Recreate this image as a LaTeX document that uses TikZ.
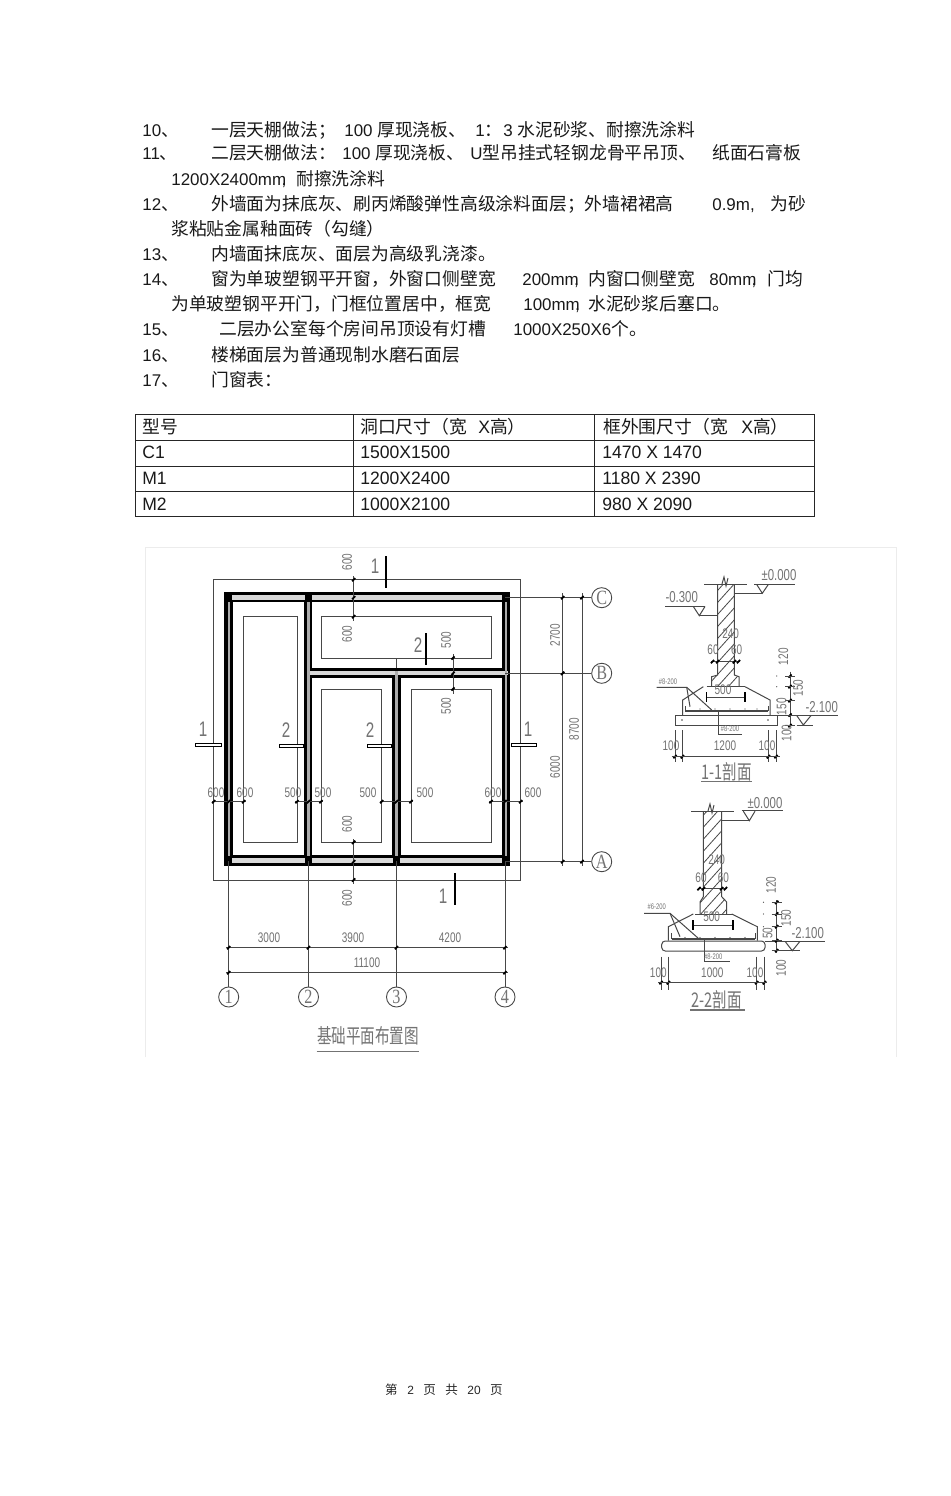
\documentclass[tikz,border=0pt]{standalone}
\usepackage{fontspec}
\setmainfont{Liberation Sans}
\newfontfamily\cj[Scale=1.05]{Noto Sans CJK SC}
\newfontfamily\cadf[FakeStretch=0.72]{Liberation Sans}
\newfontfamily\cadc[FakeStretch=0.72]{Noto Sans CJK SC}
\newfontfamily\tabf[FakeStretch=0.98]{Liberation Sans}
\newfontfamily\serf[FakeStretch=0.8]{Liberation Serif}
\newcommand{\tcj}{\fontsize{9.64}{11}\cj}
\usetikzlibrary{calc}
\newcounter{tnum}
\definecolor{cadtext}{gray}{0.45}
\definecolor{cadline}{gray}{0.28}
\definecolor{bodyc}{gray}{0.1}
\tikzset{
  px/.style={line width=#1*0.567pt},
  bodytext/.style={anchor=base west,inner sep=0pt,text=bodyc,font=\fontsize{9.64}{11}\selectfont},
  tabletext/.style={bodytext,font=\fontsize{10.2}{11}\tabf},
  cadtxt/.style={inner sep=0pt,text=cadtext,font=\fontsize{7.9}{9}\cadf},
  cadbig/.style={inner sep=0pt,text=cadtext,font=\fontsize{12}{13}\cadf},
  lvl/.style={inner sep=0pt,text=cadtext,font=\fontsize{9}{10}\cadf},
  smalltag/.style={inner sep=0pt,text=cadtext,font=\fontsize{4.6}{5}\cadf},
  titletxt/.style={inner sep=0pt,text=cadtext,font=\fontsize{11.5}{13}\cadc},
  cadl/.style={draw=cadline,px=1},
  cadthin/.style={draw=cadline,px=0.8},
  bubble/.style={circle,draw=cadline,px=0.9,minimum size=11.4pt,inner sep=0pt,text=cadtext,font=\fontsize{11.5}{12}\serf},
  secbar/.style={draw=black,px=2.2},
  sechollow/.style={draw=black,px=1,fill=white},
  tabline/.style={draw=black!85,px=1},
}
\newcommand{\tline}[3]{\stepcounter{tnum}\node[bodytext,name=t\arabic{tnum}] at (#1,#2+7) {#3};}
\newcommand{\tabt}[3]{\stepcounter{tnum}\node[tabletext,name=t\arabic{tnum}] at (#1,#2+6) {#3};}
\newcommand{\dimt}[3]{\stepcounter{tnum}\node[cadtxt,name=t\arabic{tnum}] at (#1,#2) {#3};}
\newcommand{\dimr}[3]{\stepcounter{tnum}\node[cadtxt,rotate=90,name=t\arabic{tnum}] at (#1,#2) {#3};}
\newcommand{\tickm}[2]{\draw[black,px=1.8] (#1-1.6,#2+1.6) -- (#1+1.6,#2-1.6);}
\newcommand{\secbarh}[3]{\draw[sechollow] (#1,#3-1.2) rectangle (#2,#3+1.2);}
\begin{document}
\begin{tikzpicture}[x=0.02cm,y=-0.02cm]
\useasboundingbox (0,0) rectangle (950,1496);
\fill[white] (0,0) rectangle (950,1496);

% ---- body text
\tline{142}{130}{10\cj 、}
\tline{211}{130}{\cj 一层天棚做法；}
\tline{344}{130}{100 \cj 厚现浇板、}
\tline{475}{130}{1\cj ：}
\tline{503}{130}{3 \cj 水泥砂浆、耐擦洗涂料}
\tline{142}{153}{11\cj 、}
\tline{211}{153}{\cj 二层天棚做法：}
\tline{342}{153}{100 \cj 厚现浇板、}
\tline{470}{153}{U\cj 型吊挂式轻钢龙骨平吊顶、}
\tline{712}{153}{\cj 纸面石膏板}
\tline{171}{179}{1200X2400mm\llap{,}}
\tline{296}{179}{\cj 耐擦洗涂料}
\tline{142}{204}{12\cj 、}
\tline{211}{204}{\cj 外墙面为抹底灰、刷丙烯酸弹性高级涂料面层；外墙裙裙高}
\tline{712}{204}{0.9m,}
\tline{770}{204}{\cj 为砂}
\tline{171}{229}{\cj 浆粘贴金属釉面砖（勾缝）}
\tline{142}{254}{13\cj 、}
\tline{211}{254}{\cj 内墙面抹底灰、面层为高级乳浇漆。}
\tline{142}{279}{14\cj 、}
\tline{211}{279}{\cj 窗为单玻塑钢平开窗，外窗口侧壁宽}
\tline{522}{279}{200mm\llap{,}}
\tline{588}{279}{\cj 内窗口侧壁宽}
\tline{709}{279}{80mm\llap{,}}
\tline{767}{279}{\cj 门均}
\tline{171}{304}{\cj 为单玻塑钢平开门，门框位置居中，框宽}
\tline{523}{304}{100mm\llap{,}}
\tline{588}{304}{\cj 水泥砂浆后塞口。}
\tline{142}{329}{15\cj 、}
\tline{219}{329}{\cj 二层办公室每个房间吊顶设有灯槽}
\tline{513}{329}{1000X250X6\cj 个。}
\tline{142}{354}{16\cj 、}
\tline{211}{354}{\cj 楼梯面层为普通现制水磨石面层}
\tline{142}{380}{17\cj 、}
\tline{211}{380}{\cj 门窗表：}

% ---- table
\draw[tabline] (135,414) rectangle (814,516);
\foreach \yy in {440,466,491} {\draw[tabline] (135,\yy) -- (814,\yy);}
\foreach \xx in {353,594} {\draw[tabline] (\xx,414) -- (\xx,516);}
\tabt{142}{427}{\tcj 型号}
\tabt{360}{427}{\tcj 洞口尺寸（宽}
\tabt{478}{427}{X\tcj 高）}
\tabt{603}{427}{\tcj 框外围尺寸（宽}
\tabt{741}{427}{X\tcj 高）}
\tabt{142}{452}{C1}   \tabt{360}{452}{1500X1500} \tabt{602}{452}{1470 X 1470}
\tabt{142}{478}{M1}   \tabt{360}{478}{1200X2400} \tabt{602}{478}{1180 X 2390}
\tabt{142}{504}{M2}   \tabt{360}{504}{1000X2100} \tabt{602}{504}{980 X 2090}

% ---- faint frame of the drawing
\draw[gray!15,px=1] (145,1057) -- (145,547) -- (896,547) -- (896,1057);

% ---- plan: outline and rooms
\draw[cadl] (213.7,579.7) rectangle (520.7,880);
\draw[cadl] (243.7,616.7) rectangle (297,842.3);
\draw[cadl] (321,616.7) rectangle (491,658);
\draw[cadl] (321,689) rectangle (381.7,842.3);
\draw[cadl] (411,689) rectangle (491,842.3);
\draw[cadl] (396.3,658) -- (396.3,669);

% ---- walls
\foreach \a/\b/\c/\d in {225/592.7/509/601.7,305/669/509/677.3,225/855.7/509/865,225/592.7/232.3/865,305/592.7/311.7/865,393/669/400/865,502.3/592.7/509/865}
  {\draw[black,px=1.2,fill=black] (\a,\b) rectangle (\c,\d);}
\foreach \a/\b/\c/\d in {226.5/594.7/507.5/599.7,306.5/671/507.5/675.3,226.5/857.7/507.5/863}
  {\fill[gray!30] (\a,\b) rectangle (\c,\d);}
\foreach \a/\b/\c/\d in {227.5/594.2/230/863.5,307.2/594.2/309.7/863.5,395.2/670.5/397.7/863.5,504.5/594.2/507/863.5}
  {\fill[gray!65] (\a,\b) rectangle (\c,\d);}
\foreach \a/\b in {225/592.7,305/592.7,502.3/592.7,225/856,305/856,393/856,502.3/856}
  {\fill[black] (\a,\b) rectangle ++(7,9);}

% ---- axis bubbles and axis lines
\node[bubble,name=ax1] at (228.7,997) {1};
\node[bubble,name=ax2] at (308.5,997) {2};
\node[bubble,name=ax3] at (396.5,997) {3};
\node[bubble,name=ax4] at (505,997) {4};
\node[bubble,name=axC] at (601.7,597.7) {C};
\node[bubble,name=axB] at (601.7,673.3) {B};
\node[bubble,name=axA] at (601.7,861.7) {A};
\coordinate (w1) at (228.7,861);
\coordinate (w2) at (308.5,861);
\coordinate (w3) at (396.5,861);
\coordinate (w4) at (505,861);
\coordinate (wC) at (505,597.7);
\coordinate (wB) at (505,673.3);
\coordinate (wA) at (505,861.7);
\foreach \n in {1,2,3,4} {\draw[cadl] (w\n) -- (ax\n);}
\foreach \n in {A,B,C} {\draw[cadl] (w\n) -- (ax\n);}

% ---- plan dimensions: below
\draw[cadl] (226,947.7) -- (508,947.7);
\draw[cadl] (226,972.7) -- (508,972.7);
\foreach \xx in {228.7,308.5,396.5,505} {\tickm{\xx}{947.7}}
\foreach \xx in {228.7,505} {\tickm{\xx}{972.7}}
\dimt{269}{938}{3000} \dimt{353}{938}{3900} \dimt{450}{938}{4200} \dimt{367}{963}{11100}

% ---- plan dimensions: right
\draw[cadl] (562.7,593) -- (562.7,866);
\draw[cadl] (582,593) -- (582,866);
\foreach \yy in {597.7,673.3,861.7} {\tickm{562.7}{\yy}}
\foreach \yy in {597.7,861.7} {\tickm{582}{\yy}}
\dimr{555}{635}{2700} \dimr{555}{767}{6000} \dimr{574}{729}{8700}

% ---- plan dimensions: row across rooms
\draw[cadl] (212,801.7) -- (246,801.7);
\draw[cadl] (295,801.7) -- (323,801.7);
\draw[cadl] (379.7,801.7) -- (413,801.7);
\draw[cadl] (489,801.7) -- (523,801.7);
\foreach \xx in {213.7,228.7,243.7,297,308.5,321,381.7,396.5,411,491,505,520.7} {\tickm{\xx}{801.7}}
\dimt{216}{793}{600} \dimt{245}{793}{600} \dimt{293}{793}{500} \dimt{323}{793}{500}
\dimt{368}{793}{500} \dimt{425}{793}{500} \dimt{493}{793}{600} \dimt{533}{793}{600}

% ---- plan dimensions: vertical stubs
\draw[cadl] (353.7,576) -- (353.7,621);
\foreach \yy in {579.7,597.7,616.7} {\tickm{353.7}{\yy}}
\draw[cadl] (353.7,839) -- (353.7,884);
\foreach \yy in {842.3,861.7,880} {\tickm{353.7}{\yy}}
\draw[cadl] (453,654) -- (453,694);
\foreach \yy in {658,673.3,689} {\tickm{453}{\yy}}
\dimr{347}{562}{600} \dimr{347}{634}{600} \dimr{347}{824}{600} \dimr{347}{898}{600}
\dimr{446}{640}{500} \dimr{446}{706}{500}

% ---- section marks
\draw[secbar] (386,556) -- (386,588);
\draw[secbar] (426,633) -- (426,665);
\draw[secbar] (455,873) -- (455,905);
\secbarh{195}{221}{745}
\secbarh{279}{303}{746}
\secbarh{367}{391}{746}
\secbarh{511}{536}{745}
\node[cadbig,name=s1] at (375,566) {1};
\node[cadbig,name=s2] at (418,645) {2};
\node[cadbig,name=s3] at (443,896) {1};
\node[cadbig,name=s4] at (203,729) {1};
\node[cadbig,name=s5] at (286,730) {2};
\node[cadbig,name=s6] at (370,730) {2};
\node[cadbig,name=s7] at (528,729) {1};

% ---- plan title
\node[titletxt,name=plantitle] at (368,1036) {基础平面布置图};
\draw[cadtext,px=1.4] (316.7,1051.7) -- (419.3,1051.7);

% ======== section 1-1
\begin{scope}
\clip (717.7,584) -- (734.3,584) -- (734.3,675) -- (739,677) -- (739,686.7) -- (711.7,686.7) -- (711.7,677) -- (717.7,675) -- cycle;
\foreach \k in {0,...,10} {\draw[cadthin] (700,610+\k*12) -- (745,560+\k*12);}
\end{scope}
\draw[cadl] (704,584) -- (747.3,584);
\draw[cadl] (717.7,584) -- (717.7,675) -- (711.7,676.7) -- (711.7,686.7);
\draw[cadl] (734.3,584) -- (734.3,675) -- (739,676.7) -- (739,686.7);
\draw[cadl] (722,584) -- (724,577) -- (726,586) -- (728,578);
\draw[cadl] (706.7,686.7) -- (745,686.7);
\draw[cadl] (703.3,686.7) -- (682.7,700) -- (682.7,715);
\draw[cadl] (745,686.7) -- (770,700) -- (770,715);
\draw[cadl] (675,715.3) rectangle (777.3,725.3);
\draw[cadl] (777.3,715.3) -- (838,715.3);
\draw[cadl] (685,706) -- (685,710) -- (768,710) -- (768,706);
\draw[cadl] (685,711.5) -- (768,711.5);
\foreach \xx in {682,768} {\fill[cadline] (\xx,720) circle (0.8);}
\foreach \xx in {700,715,730,745,757} {\fill[cadline] (\xx,709) circle (0.7);}
% levels
\draw[cadl] (754.3,584) -- (795,584);
\draw[cadl] (756.7,584.5) -- (762.3,593.3) -- (768.3,584.5);
\draw[cadl] (762.3,593.3) -- (734.3,593.3);
\node[lvl,name=lv1] at (779,575) {±0.000};
\draw[cadl] (665,606) -- (705,606);
\draw[cadl] (693.3,606.5) -- (699.3,615.7) -- (705,606.5);
\draw[cadl] (699.3,615.7) -- (717.7,615.7);
\node[lvl,name=lv2] at (681.7,597) {-0.300};
\draw[cadl] (796.7,715.5) -- (803.3,725) -- (811,715.5);
\draw[cadl] (796.7,725) -- (813,725);
\node[lvl,name=lv3] at (821.7,706.7) {-2.100};
% inner dims
\dimt{730.7}{634}{240} \dimt{713}{650}{60} \dimt{736.7}{650}{60} \dimt{723}{690}{500}
\draw[cadl] (711,661.7) -- (740,661.7);
\foreach \xx in {712.5,717.7,734.3,738.5} {\tickm{\xx}{661.7}}
\draw[cadl] (705.7,697.3) -- (746,697.3);
\foreach \xx in {706.5,745} {\draw[black,px=1.2] (\xx,692) -- (\xx,702);}
% rebar tags
\node[smalltag,name=rb1] at (668,681.7) {\#8-200};
\draw[cadl] (656.7,687.3) -- (686.7,687.3) -- (690,706.7);
\draw[cadl] (686.7,687.3) -- (711.7,710);
\draw[cadl] (718.3,711.7) -- (718.3,734) -- (741.7,734);
\node[smalltag,name=rb2] at (730,729) {\#8-200};
% right dims
\draw[cadl] (790,671.7) -- (790,726.7);
\foreach \yy in {676,686.7,700.7,715,725.7} {\tickm{790}{\yy}\draw[cadl] (785,\yy) -- (795,\yy);}
\foreach \yy in {676,686.7,700} {\fill[cadline] (776.7,\yy) circle (0.6);}
\dimr{783.3}{656.7}{120} \dimr{798}{688}{150} \dimr{781.7}{706.7}{150} \dimr{786.7}{733}{100}
% bottom dims
\foreach \xx in {675,682.3,768.3,776} {\draw[cadl] (\xx,730) -- (\xx,761.7); \tickm{\xx}{756.7}}
\draw[cadl] (671.7,756.7) -- (780,756.7);
\dimt{671}{746}{100} \dimt{725}{746}{1200} \dimt{767}{746}{100}
\node[titletxt,name=sec1] at (726.7,771.7) {1-1剖面};
\draw[cadtext,px=1.2] (701,781.7) -- (751.7,781.7);

% ======== section 2-2
\begin{scope}
\clip (703.3,811) -- (721.7,811) -- (721.7,896.7) -- (726.7,902) -- (726.7,914) -- (700,914) -- (700,902) -- (703.3,896.7) -- cycle;
\foreach \k in {0,...,12} {\draw[cadthin] (690,830+\k*12) -- (735,780+\k*12);}
\end{scope}
\draw[cadl] (691,811) -- (734.3,811);
\draw[cadl] (703.3,811) -- (703.3,896.7) -- (700,902) -- (700,914);
\draw[cadl] (721.7,811) -- (721.7,896.7) -- (726.7,902) -- (726.7,914);
\draw[cadl] (708,811) -- (710,804) -- (712,813) -- (714,805);
\draw[cadl] (695,914) -- (731.7,914);
\draw[cadl] (693.3,914) -- (668.3,926.7) -- (668.3,940.7);
\draw[cadl] (731.7,914) -- (757.3,926.7) -- (757.3,940.7);
\draw[cadl,rounded corners=2] (661.7,941) rectangle (765,951);
\draw[cadl] (765,941) -- (825,941);
\draw[cadl] (671.7,933) -- (671.7,938.3) -- (755,938.3) -- (755,933);
\draw[cadl] (671.7,939.8) -- (755,939.8);
\foreach \xx in {685,700,715,730,745} {\fill[cadline] (\xx,937.5) circle (0.7);}
% levels
\draw[cadl] (741.7,810.7) -- (782.7,810.7);
\draw[cadl] (743.3,811.2) -- (749.3,820.7) -- (755,811.2);
\draw[cadl] (749.3,820.7) -- (721.7,820.7);
\node[lvl,name=lv4] at (765,802.7) {±0.000};
\draw[cadl] (785,941.3) -- (792.3,950.7) -- (800,941.3);
\draw[cadl] (776,950.7) -- (800,950.7);
\node[lvl,name=lv5] at (807.7,932.7) {-2.100};
% inner dims
\dimt{716.7}{860}{240} \dimt{701}{878}{60} \dimt{723.3}{878}{60} \dimt{711.7}{916.7}{500}
\draw[cadl] (697.7,888.7) -- (726.7,888.7);
\foreach \xx in {699,703.3,721.7,725.5} {\tickm{\xx}{888.7}}
\draw[cadl] (692.3,925) -- (734,925);
\foreach \xx in {693,733} {\draw[black,px=1.2] (\xx,920) -- (\xx,930);}
% rebar tags
\node[smalltag,name=rb3] at (656.7,906.7) {\#6-200};
\draw[cadl] (644,913.3) -- (670,913.3) -- (680,936.7);
\draw[cadl] (670,913.3) -- (698.3,938.3);
\draw[cadl] (704,938) -- (704,961.7) -- (730,961.7);
\node[smalltag,name=rb4] at (713.3,956.7) {\#8-200};
% right dims
\draw[cadl] (776.7,900) -- (776.7,953.3);
\foreach \yy in {902.3,914,926.7,940.7,950.7} {\tickm{776.7}{\yy}\draw[cadl] (771.5,\yy) -- (782,\yy);}
\foreach \yy in {902.3,914,926.7} {\fill[cadline] (763.5,\yy) circle (0.6);}
\dimr{771}{885}{120} \dimr{786}{918}{150} \dimr{767.7}{933}{50} \dimr{781}{968}{100}
% bottom dims
\foreach \xx in {661,668.3,756.7,764.3} {\draw[cadl] (\xx,956.7) -- (\xx,990); \tickm{\xx}{982.7}}
\draw[cadl] (658.3,982.7) -- (766.7,982.7);
\dimt{658.3}{973}{100} \dimt{712.3}{973}{1000} \dimt{755}{973}{100}
\node[titletxt,name=sec2] at (716.7,1000) {2-2剖面};
\draw[cadtext,px=1.2] (690,1010) -- (745,1010);

% ---- footer
\node[inner sep=0pt,text=black!85,font=\fontsize{6.8}{8}\selectfont,name=footer] at (444,1390) {{\cj 第}\hspace{5.4pt}2\hspace{5.4pt}{\cj 页}\hspace{5.4pt}{\cj 共}\hspace{5.4pt}20\hspace{5.4pt}{\cj 页}};
\end{tikzpicture}
\end{document}
